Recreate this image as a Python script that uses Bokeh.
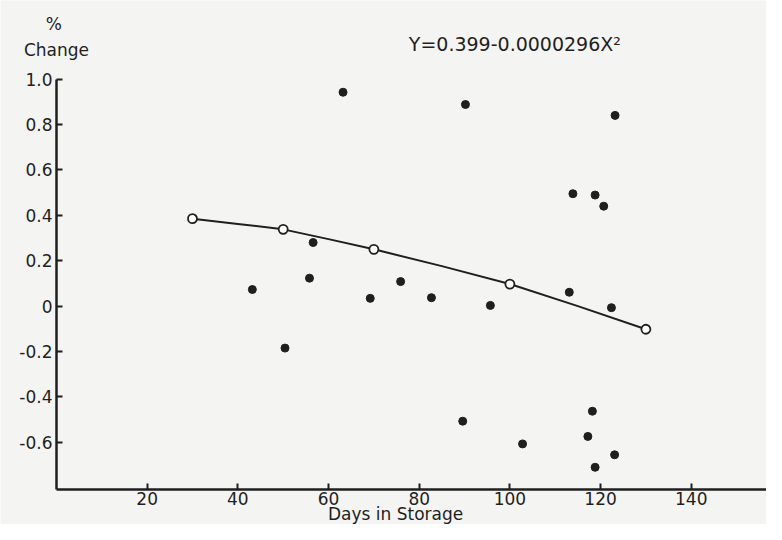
from bokeh.plotting import figure
from bokeh.models import FixedTicker, CustomJSTickFormatter, Label, Range1d, ColumnDataSource
from bokeh.embed import file_html
from bokeh.resources import INLINE

# Observed data (days in storage, % change)
obs_days = [43.2, 50.4, 55.8, 56.6, 63.2, 69.2, 75.9, 82.7, 89.6, 90.2, 95.7,
            102.8, 113.1, 113.9, 117.2, 118.2, 118.8, 118.8, 120.7, 122.4, 123.1, 123.2]
obs_change = [0.073, -0.185, 0.123, 0.280, 0.942, 0.034, 0.108, 0.037, -0.507, 0.888, 0.003,
              -0.607, 0.061, 0.495, -0.574, -0.463, 0.489, -0.710, 0.440, -0.007, -0.655, 0.840]

# Fitted curve
curve_days = [30, 40, 50, 60, 70, 85, 100, 115, 130]
curve_change = [0.385, 0.362, 0.338, 0.295, 0.250, 0.176, 0.097, 0.000, -0.102]

# Open circles on the fitted curve
fit_days = [30, 50, 70, 100, 130]
fit_change = [0.385, 0.338, 0.250, 0.097, -0.102]

x_ticks = [20, 40, 60, 80, 100, 120, 140]
y_ticks = [-0.6, -0.4, -0.2, 0.0, 0.2, 0.4, 0.6, 0.8, 1.0]

equation = "Y=0.399-0.0000296X\u00b2"
y_title_top = "%"
y_title = "Change"
x_title = "Days in Storage"

FONT = "DejaVu Sans"
INK = "#1f1f1f"
BG = "#f4f4f2"

X0, X1 = -12.35, 156.6
Y0, Y1 = -0.962, 1.346
Y_AXIS_BOTTOM = -0.807

p = figure(width=766, height=524, output_backend="svg", toolbar_location=None, title=None,
           x_range=Range1d(X0, X1), y_range=Range1d(Y0, Y1),
           min_border_left=0, min_border_right=0, min_border_top=0, min_border_bottom=0)
p.background_fill_color = BG
p.border_fill_color = BG
p.outline_line_color = None
p.grid.visible = False

for ax in (p.xaxis[0], p.yaxis[0]):
    ax.axis_line_color = INK
    ax.axis_line_width = 2.5
    ax.major_tick_line_color = INK
    ax.major_tick_line_width = 2
    ax.major_tick_in = 6
    ax.major_tick_out = 0
    ax.minor_tick_line_color = None
    ax.major_label_text_font = FONT
    ax.major_label_text_font_size = "17px"
    ax.major_label_text_color = INK

p.xaxis.fixed_location = Y_AXIS_BOTTOM
p.yaxis.fixed_location = 0
p.xaxis.bounds = (0, X1)
p.yaxis.bounds = (Y_AXIS_BOTTOM, 1.0)
p.xaxis.ticker = FixedTicker(ticks=x_ticks)
p.yaxis.ticker = FixedTicker(ticks=y_ticks)
p.yaxis.formatter = CustomJSTickFormatter(code="return Math.abs(tick) < 1e-9 ? '0' : tick.toFixed(1);")
p.xaxis.major_label_standoff = 3
p.yaxis.major_label_standoff = 4

src_obs = ColumnDataSource(dict(x=obs_days, y=obs_change))
src_curve = ColumnDataSource(dict(x=curve_days, y=curve_change))
src_fit = ColumnDataSource(dict(x=fit_days, y=fit_change))

p.line("x", "y", source=src_curve, line_color=INK, line_width=2)
p.scatter("x", "y", source=src_fit, size=9, fill_color="white", line_color=INK, line_width=1.8)
p.scatter("x", "y", source=src_obs, size=8, fill_color=INK, line_color=INK)

txt = dict(text_font=FONT, text_color=INK)
p.add_layout(Label(x=-0.6, y=1.244, text=y_title_top, text_align="center", text_baseline="middle",
                   text_font_size="17px", **txt))
p.add_layout(Label(x=0.0, y=1.129, text=y_title, text_align="center", text_baseline="middle",
                   text_font_size="17px", **txt))
p.add_layout(Label(x=77.7, y=1.155, text=equation, text_align="left", text_baseline="middle",
                   text_font_size="19px", **txt))
p.add_layout(Label(x=74.8, y=-0.958, text=x_title, text_align="center", text_baseline="bottom",
                   text_font_size="17px", **txt))

open("out.html", "w").write(file_html(p, INLINE))
